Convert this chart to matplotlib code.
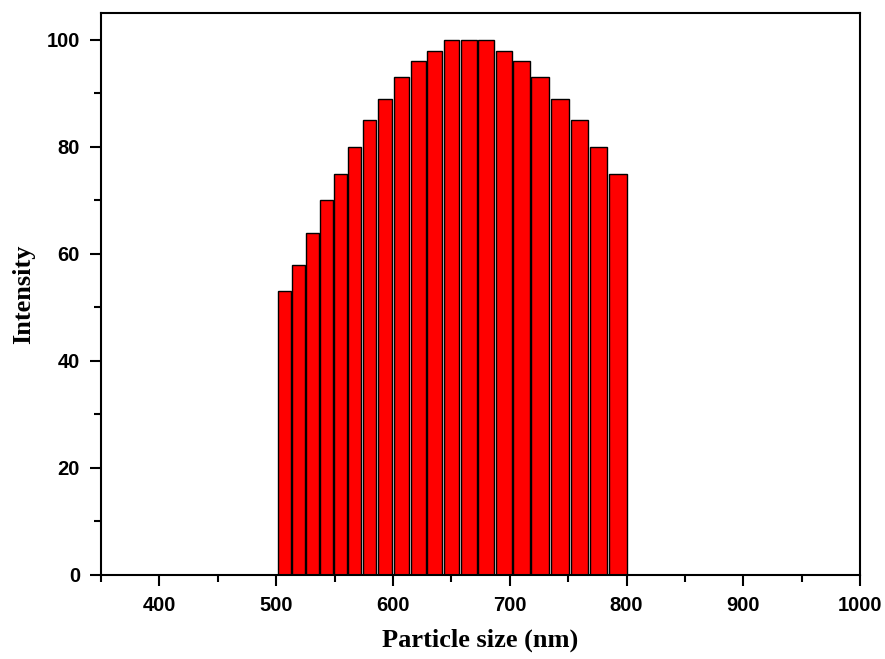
import numpy as np
import matplotlib.pyplot as plt
from matplotlib.ticker import MultipleLocator

sizes = [507, 519, 531, 543, 555, 567, 580, 593, 607, 621.5, 635.5,
         650, 665, 679.5, 695, 710, 726, 743, 759.5, 776, 793]
intensity = [53, 58, 64, 70, 75, 80, 85, 89, 93, 96, 98,
             100, 100, 100, 98, 96, 93, 89, 85, 80, 75]


def main():
    x = np.array(sizes)
    widths = np.gradient(x) * 0.9

    fig = plt.figure(figsize=(8.85, 6.59), dpi=100)
    ax = fig.add_axes([0.114, 0.1275, 0.858, 0.8525])

    ax.bar(x, intensity, width=widths, color="#ff0000",
           edgecolor="black", linewidth=1.0)

    ax.set_xlim(350, 1000)
    ax.set_ylim(0, 105)
    ax.xaxis.set_major_locator(MultipleLocator(100))
    ax.xaxis.set_minor_locator(MultipleLocator(50))
    ax.yaxis.set_major_locator(MultipleLocator(20))
    ax.yaxis.set_minor_locator(MultipleLocator(10))

    for s in ax.spines.values():
        s.set_linewidth(1.5)
    ax.tick_params(which="major", direction="out", length=8, width=1.5,
                   top=False, right=False, pad=7)
    ax.tick_params(which="minor", direction="out", length=5, width=1.5,
                   top=False, right=False)

    for lab in ax.get_xticklabels() + ax.get_yticklabels():
        lab.set_fontfamily("Liberation Sans")
        lab.set_fontweight("bold")
        lab.set_fontsize(14.5)

    ax.set_xlabel("Particle size (nm)", fontfamily="Liberation Serif",
                  fontweight="bold", fontsize=19, labelpad=10)
    ax.set_ylabel("Intensity", fontfamily="Liberation Serif",
                  fontweight="bold", fontsize=19, labelpad=8)

    fig.savefig("out.png", dpi=100)


if __name__ == "__main__":
    main()
